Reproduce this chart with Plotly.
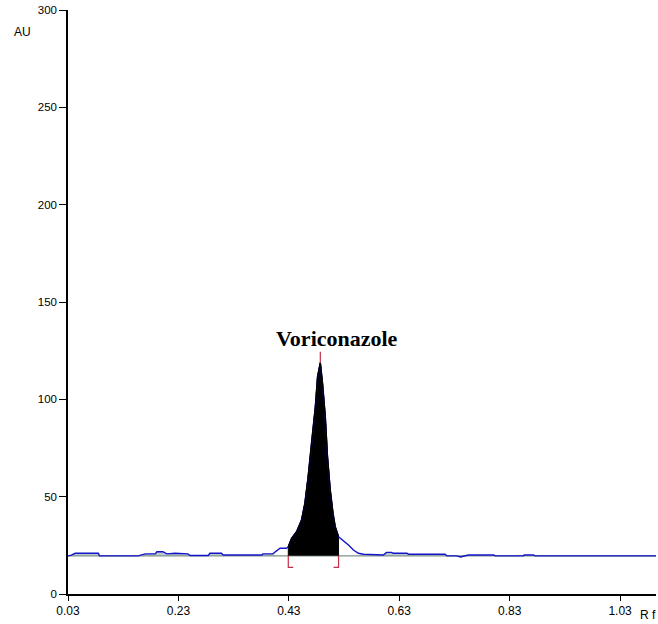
import numpy as np
import plotly.graph_objects as go

# densitogram track (Rf vs AU)
rf = [0.030, 0.036, 0.043, 0.085, 0.087, 0.157, 0.170, 0.188, 0.191, 0.202,
      0.209, 0.224, 0.247, 0.251, 0.284, 0.287, 0.308, 0.311, 0.381, 0.383,
      0.401, 0.409, 0.414, 0.426, 0.429, 0.435, 0.444, 0.453, 0.459, 0.465,
      0.471, 0.478, 0.482, 0.487, 0.491, 0.496, 0.500, 0.505, 0.510, 0.514,
      0.520, 0.529, 0.538, 0.547, 0.556, 0.565, 0.601, 0.607, 0.616, 0.619,
      0.644, 0.647, 0.713, 0.716, 0.734, 0.741, 0.747, 0.755, 0.801, 0.804,
      0.855, 0.856, 0.873, 0.876, 1.095]
au = [19.6, 20.0, 20.9, 20.9, 19.6, 19.6, 20.6, 20.6, 21.7, 21.7,
      20.6, 20.9, 20.6, 19.8, 19.8, 20.9, 20.9, 20.0, 20.0, 20.6,
      20.6, 22.6, 23.5, 23.5, 24.3, 28.6, 32.0, 38.0, 46.6, 60.3,
      77.4, 96.2, 111.6, 118.8, 108.2, 91.1, 70.5, 53.4, 41.4, 34.6,
      29.4, 27.4, 25.2, 22.6, 20.9, 20.4, 20.0, 21.4, 21.4, 20.9,
      20.9, 20.4, 20.4, 19.6, 19.6, 19.0, 19.6, 20.0, 20.0, 19.6,
      19.6, 20.0, 20.0, 19.6, 19.6]

baseline_au = 19.6
peak_name = "Voriconazole"
peak_start = 0.429
peak_end = 0.520
peak_max_rf = 0.487
peak_max_au = 118.8
# shoulders around the main peak are not shaded
shoulder = (0.401, 0.565)

x_ticks = [0.03, 0.23, 0.43, 0.63, 0.83, 1.03]
y_ticks = [0, 50, 100, 150, 200, 250, 300]

rf_arr = np.array(rf)
au_arr = np.array(au)

fig = go.Figure()

# baseline
fig.add_trace(go.Scatter(x=[rf[0], rf[-1]], y=[baseline_au, baseline_au], mode="lines",
                         line=dict(color="#7f9488", width=1.2), hoverinfo="skip"))
# light shading of the small bumps against the baseline
in_sh = (rf_arr > shoulder[0]) & (rf_arr < shoulder[1])
shade_au = np.where(in_sh, baseline_au, au_arr)
fig.add_trace(go.Scatter(x=rf, y=shade_au, mode="lines", fill="tonexty",
                         fillcolor="rgba(170,185,195,0.8)", line=dict(width=0),
                         hoverinfo="skip"))

# integrated peak area
mask = (rf_arr >= peak_start) & (rf_arr <= peak_end)
px = np.concatenate([[peak_start], rf_arr[mask], [peak_end]])
py = np.concatenate([[baseline_au], au_arr[mask], [baseline_au]])
fig.add_trace(go.Scatter(x=px, y=py, mode="lines", fill="toself", fillcolor="black",
                         line=dict(color="black", width=1)))

# the track itself
fig.add_trace(go.Scatter(x=rf, y=au, mode="lines", line=dict(color="#1414c8", width=1.4)))
# redraw the peak outline in black on top
fig.add_trace(go.Scatter(x=rf_arr[mask], y=au_arr[mask], mode="lines",
                         line=dict(color="black", width=1.4)))

# integration brackets + peak marker
red = "#c0304a"
d = 0.009
fig.add_trace(go.Scatter(x=[peak_start, peak_start, peak_start + d], y=[baseline_au, 13.7, 13.7],
                         mode="lines", line=dict(color=red, width=1.2)))
fig.add_trace(go.Scatter(x=[peak_end, peak_end, peak_end - d], y=[baseline_au, 13.7, 13.7],
                         mode="lines", line=dict(color=red, width=1.2)))
fig.add_trace(go.Scatter(x=[peak_max_rf, peak_max_rf], y=[peak_max_au, 124.5],
                         mode="lines", line=dict(color=red, width=1.2)))

fig.add_annotation(x=0.517, y=131.5, text="<b>" + peak_name + "</b>", showarrow=False,
                   font=dict(family="Liberation Serif", size=22, color="black"))
fig.add_annotation(x=-0.096, y=0.978, xref="paper", yref="paper", text="AU", showarrow=False,
                   font=dict(family="Liberation Sans", size=12, color="black"))
fig.add_annotation(x=1.003, y=-0.0514, xref="paper", yref="paper", xanchor="right",
                   yanchor="bottom", text="R f", showarrow=False,
                   font=dict(family="Liberation Sans", size=12, color="black"))

fig.update_layout(
    width=658, height=624,
    margin=dict(l=68, r=2, t=10, b=30),
    plot_bgcolor="white", paper_bgcolor="white",
    showlegend=False,
    font=dict(family="Liberation Sans", size=11, color="black"),
)
fig.update_xaxes(range=[0.03, 1.095], tickvals=x_ticks, ticktext=["%.2f" % v for v in x_ticks],
                 tickfont=dict(size=12),
                 showline=True, linecolor="black", linewidth=1.5, ticks="outside", ticklen=5,
                 tickcolor="black", showgrid=False, zeroline=False)
fig.update_yaxes(range=[0, 300], tickvals=y_ticks, tickfont=dict(size=11.5),
                 showline=True, linecolor="black", linewidth=1.5,
                 ticks="outside", ticklen=7, tickcolor="black", showgrid=False, zeroline=False)

# drop the default 8px page margin so the figure fills the window
fig.write_html("out.html", config={"displayModeBar": False},
               post_script="document.body.style.margin='0';")
